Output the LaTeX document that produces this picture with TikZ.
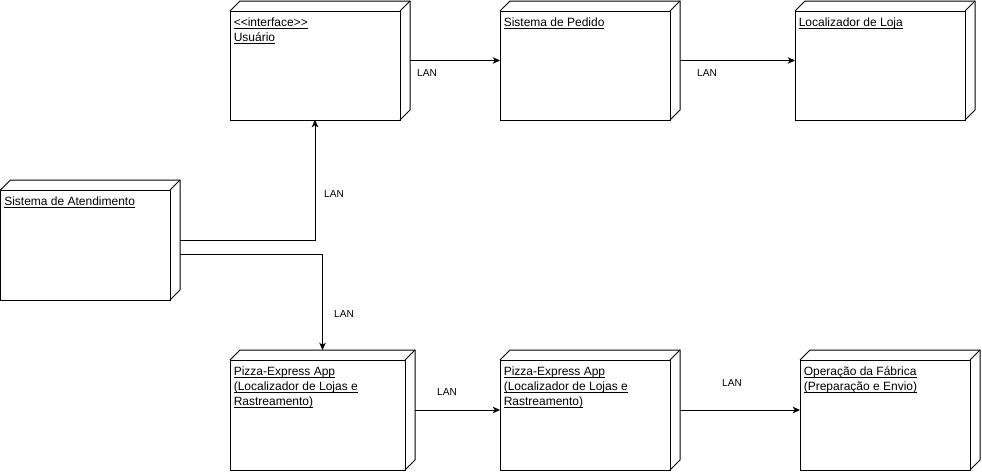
\documentclass[tikz,border=0pt]{standalone}
\usepackage{fontspec}
\setmainfont{Liberation Sans}
\usetikzlibrary{arrows.meta,calc}
\newcommand\ulx[1]{\setbox0\hbox{#1}\rlap{\rule[-1.4pt]{\wd0}{0.6pt}}\box0}
\tikzset{
  boxline/.style={draw=black, line width=0.75pt, line join=miter},
  boxface/.style={boxline, fill=white, inner sep=0pt, outer sep=0pt},
  nodetext/.style={inner sep=0pt, font=\fontsize{9}{11.25}\selectfont},
  lan/.style={inner sep=0pt, font=\fontsize{7.6}{9}\selectfont},
  conn/.style={draw=black, line width=0.75pt, -{Stealth[length=5.5pt,width=5pt,inset=1.6pt]}},
}
\newcommand\depnode[6]{%
  \node[anchor=north west, inner sep=0pt, outer sep=0pt, minimum width={(#4-#2)*0.75pt}, minimum height={(#5-#3)*0.75pt}] (#1) at (#2,#3) {};
  \node[boxface, anchor=north west, minimum width={(#4-#2-10)*0.75pt}, minimum height={(#5-#3-10)*0.75pt}] (#1-f) at (#2,#3+10) {};
  \draw[boxline] (#1-f.north west) -- ++(10,-10) -- (#1.north east) -- ++(0,{#5-#3-10}) -- (#1-f.south east);
  \draw[boxline] (#1-f.north east) -- (#1.north east);
  \node[nodetext, anchor=base west] (#1-t) at ([shift={(3.5,15.5)}]#1-f.north west) {\begin{tabular}[t]{@{}l@{}}#6\end{tabular}};
}
\begin{document}
\begin{tikzpicture}[x=0.75pt,y=-0.75pt]
\useasboundingbox (0,0) rectangle (982,472);
\depnode{usr}{230}{1}{410}{120}{\ulx{<{}<interface>{}>}\\\ulx{Usuário}}
\depnode{ped}{500}{1}{680}{120}{\ulx{Sistema de Pedido}}
\depnode{loc}{795}{1}{975}{120}{\ulx{Localizador de Loja}}
\depnode{aten}{0.5}{180}{180}{300}{\ulx{Sistema de Atendimento}}
\depnode{pa}{230}{350}{415}{470}{\ulx{Pizza-Express App}\\\ulx{(Localizador de Lojas e}\\\ulx{Rastreamento)}}
\depnode{pb}{500}{350}{680}{470}{\ulx{Pizza-Express App}\\\ulx{(Localizador de Lojas e}\\\ulx{Rastreamento)}}
\depnode{op}{800}{350}{980}{470}{\ulx{Operação da Fábrica}\\\ulx{(Preparação e Envio)}}

\draw[conn] (usr.east) -- (ped.west);
\draw[conn] (ped.east) -- (loc.west);
\draw[conn] (aten.east) -| (usr-f.south);
\draw[conn] ($(aten.east)+(0,14)$) -| (pa.north);
\draw[conn] (pa.east) -- (pb.west);
\draw[conn] (pb.east) -- (op.west);

\node[lan] (l1) at (427,73.5) {LAN};
\node[lan] (l2) at (707,73.5) {LAN};
\node[lan] (l3) at (334,194) {LAN};
\node[lan] (l4) at (344,314) {LAN};
\node[lan] (l5) at (447,392.5) {LAN};
\node[lan] (l6) at (732,383) {LAN};
\end{tikzpicture}
\end{document}
